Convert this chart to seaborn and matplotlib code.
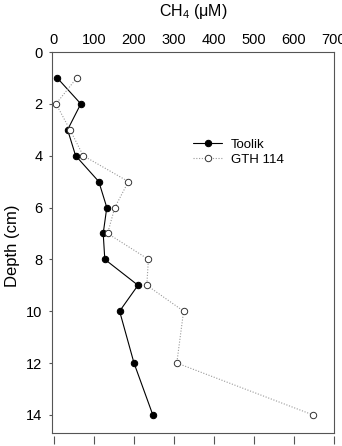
import matplotlib
matplotlib.use("Agg")
import matplotlib.pyplot as plt
import seaborn as sns
import pandas as pd

depth = [1, 2, 3, 4, 5, 6, 7, 8, 9, 10, 12, 14]
toolik = [8, 67, 34, 54, 112, 132, 123, 127, 210, 164, 200, 247]
gth114 = [57, 5, 40, 73, 186, 152, 134, 236, 232, 324, 307, 647]
xticks = [0, 100, 200, 300, 400, 500, 600, 700]
yticks = [0, 2, 4, 6, 8, 10, 12, 14]

sns.set_theme(style="white")
plt.rcParams['font.family'] = ['Liberation Sans', 'DejaVu Sans']
plt.rcParams['mathtext.fontset'] = 'custom'
plt.rcParams['mathtext.rm'] = 'Liberation Sans'
plt.rcParams['text.color'] = 'black'
plt.rcParams['axes.labelcolor'] = 'black'
plt.rcParams['xtick.labelcolor'] = 'black'
plt.rcParams['ytick.labelcolor'] = 'black'

df = pd.DataFrame({"depth": depth * 2, "conc": toolik + gth114,
                   "site": ["Toolik"] * len(depth) + ["GTH 114"] * len(depth)})

fig = plt.figure(figsize=(3.42, 4.46), dpi=100)
ax = fig.add_axes([52/342, 1 - 433/446, (334 - 52)/342, (433 - 52)/446])

sns.lineplot(data=df[df.site == "Toolik"], x="conc", y="depth", orient="y", ax=ax,
             color="black", lw=0.8, marker="o", markersize=4.6, markerfacecolor="black",
             markeredgecolor="black", label="Toolik")
sns.lineplot(data=df[df.site == "GTH 114"], x="conc", y="depth", orient="y", ax=ax,
             color="#999999", lw=0.8, linestyle=(0, (1, 1.5)), marker="o", markersize=4.6,
             markerfacecolor="white", markeredgecolor="#333333", markeredgewidth=0.7,
             label="GTH 114")

ax.set_xlim(-5, 700)
ax.set_ylim(14.7, 0)
ax.xaxis.set_ticks_position("top")
ax.xaxis.set_label_position("top")
ax.set_xticks(xticks)
ax.set_yticks(yticks)
ax.tick_params(axis="x", top=False, bottom=False, labeltop=True, labelbottom=False,
               labelsize=10.5, length=0, pad=3.5)
ax.tick_params(axis="y", left=True, length=2.5, width=0.8, direction="out",
               labelsize=10.5, pad=4.5, color="#555555")
ax.set_xlabel("CH$_4$ (μM)", fontsize=11.5, labelpad=12)
ax.set_ylabel("Depth (cm)", fontsize=12)
ax.yaxis.set_label_coords(-0.113, 0.492)
for s in ax.spines.values():
    s.set_color("#555555")
    s.set_linewidth(0.8)

sec = ax.secondary_xaxis("bottom")
sec.set_xticks(xticks)
sec.spines["bottom"].set_position(("outward", 8))
sec.spines["bottom"].set_visible(False)
sec.tick_params(axis="x", length=6, width=0.8, direction="in", labelbottom=False,
                color="#555555")

leg = ax.legend(loc="upper left", bbox_to_anchor=(0.459, 0.804), frameon=False,
                fontsize=9.5, handlelength=2.2, handletextpad=0.65, labelspacing=0.2)

fig.savefig("out.png", dpi=100)
